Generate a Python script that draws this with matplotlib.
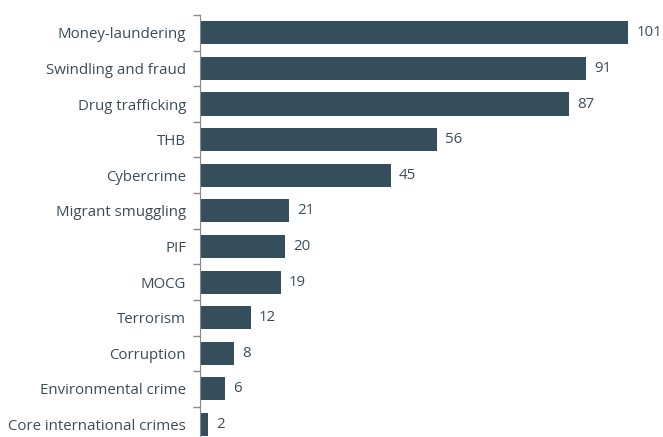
import matplotlib.pyplot as plt

categories = [
    'Money-laundering', 'Swindling and fraud', 'Drug trafficking', 'THB',
    'Cybercrime', 'Migrant smuggling', 'PIF', 'MOCG', 'Terrorism',
    'Corruption', 'Environmental crime', 'Core international crimes',
]
values = [101, 91, 87, 56, 45, 21, 20, 19, 12, 8, 6, 2]

BAR = '#344f5b'
TEXT = '#3d4b55'

plt.rcParams['font.family'] = ['Open Sans', 'DejaVu Sans']

fig = plt.figure(figsize=(6.63, 4.37), dpi=100)
ax = fig.add_axes([200 / 663, 0, 463 / 663, 422 / 437])

pos = list(range(len(categories)))
ax.barh(pos, values, height=0.65, color=BAR)
for p, v in zip(pos, values):
    ax.text(v + 1.9, p, str(v), va='center', ha='left', fontsize=10.8, color=TEXT)

ax.set_xlim(0, 109.2)
ax.set_ylim(11.35, -0.5)
ax.set_yticks(pos)
ax.set_yticklabels(categories, fontsize=10.8, color=TEXT)
ax.set_yticks([p - 0.5 for p in pos], minor=True)
ax.tick_params(axis='y', which='major', length=0, pad=10)
ax.tick_params(axis='y', which='minor', length=5, color='#888888', width=1)
ax.set_xticks([])
for s in ['top', 'right', 'bottom']:
    ax.spines[s].set_visible(False)
ax.spines['left'].set_color('#888888')

fig.savefig('out.png', dpi=100)
